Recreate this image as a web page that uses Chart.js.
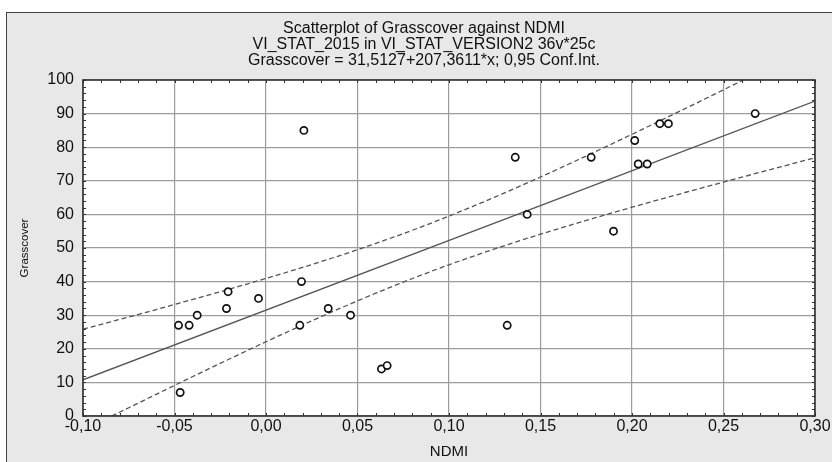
<!DOCTYPE html>
<html>
<head>
<meta charset="utf-8">
<script src="https://cdn.jsdelivr.net/npm/chart.js@4.4.1/dist/chart.umd.min.js"></script>
<style>
  body { margin: 0; background: #fff; }
  #frame { position: absolute; left: 6px; top: 12px; width: 840px; height: 470px;
           border: 1px solid #444; background: #e8e8e8; }
  #wrap { position: absolute; left: 0; top: 0; width: 832px; height: 462px; }
</style>
</head>
<body>
<div id="frame"></div>
<div id="wrap"><canvas id="chart" width="832" height="462"></canvas></div>
<script>
// NDMI vs Grasscover, 25 cases
const ndmi = [-0.0478, -0.0420, -0.0376, -0.0207, -0.0216, -0.0041, 0.0194, 0.0185,
  0.0340, 0.0462, 0.0631, 0.0662, -0.0469, 0.0207, 0.1362, 0.1427, 0.1318, 0.1777,
  0.1899, 0.2015, 0.2034, 0.2083, 0.2152, 0.2199, 0.2673];
const grass = [27, 27, 30, 37, 32, 35, 40, 27, 32, 30, 14, 15, 7, 85, 77, 60, 27, 77,
  55, 82, 75, 75, 87, 87, 90];

// fit from the title line
const intercept = 31.5127;
const slope = 207.3611;
const tCrit = 2.0687; // t(0.975, 23)

const xTicks = [-0.10, -0.05, 0.00, 0.05, 0.10, 0.15, 0.20, 0.25, 0.30];
const yTicks = [0, 10, 20, 30, 40, 50, 60, 70, 80, 90, 100];

const titleLines = [
  "Scatterplot of Grasscover against NDMI",
  "VI_STAT_2015 in VI_STAT_VERSION2 36v*25c",
  "Grasscover = 31,5127+207,3611*x; 0,95 Conf.Int."
];

// confidence band for the mean
const n = ndmi.length;
const meanX = ndmi.reduce((a, b) => a + b, 0) / n;
const sxx = ndmi.reduce((a, x) => a + (x - meanX) ** 2, 0);
const sse = ndmi.reduce((a, x, i) => a + (grass[i] - (intercept + slope * x)) ** 2, 0);
const s = Math.sqrt(sse / (n - 2));

const fitLine = [xTicks[0], xTicks[xTicks.length - 1]].map(x => ({ x, y: intercept + slope * x }));
const upper = [], lower = [];
for (let i = 0; i <= 80; i++) {
  const x = xTicks[0] + i * (xTicks[xTicks.length - 1] - xTicks[0]) / 80;
  const yh = intercept + slope * x;
  const h = tCrit * s * Math.sqrt(1 / n + (x - meanX) ** 2 / sxx);
  upper.push({ x, y: yh + h });
  lower.push({ x, y: yh - h });
}

const comma = v => {
  const r = Math.abs(v) < 1e-9 ? 0 : v;
  return r.toFixed(2).replace(".", ",");
};

const FONT = "'Liberation Sans', Arial, sans-serif";

const frameBox = {
  id: "frameBox",
  beforeDraw(chart) {
    const { ctx, chartArea: a } = chart;
    ctx.save();
    ctx.fillStyle = "#fff";
    ctx.fillRect(a.left, a.top, a.right - a.left, a.bottom - a.top);
    ctx.restore();
  },
  afterDatasetsDraw(chart) {
    const { ctx, chartArea: a, scales } = chart;
    ctx.save();
    ctx.strokeStyle = "#333";
    ctx.lineWidth = 1;
    ctx.beginPath();
    for (let v = -0.1; v <= 0.3001; v += 0.01) {
      const px = Math.round(scales.x.getPixelForValue(v)) + 0.5;
      ctx.moveTo(px, a.bottom); ctx.lineTo(px, a.bottom - 3);
      ctx.moveTo(px, a.top); ctx.lineTo(px, a.top + 3);
    }
    for (let v = 0; v <= 100; v += 2) {
      const py = Math.round(scales.y.getPixelForValue(v)) + 0.5;
      ctx.moveTo(a.left, py); ctx.lineTo(a.left + 3, py);
      ctx.moveTo(a.right, py); ctx.lineTo(a.right - 3, py);
    }
    ctx.stroke();
    ctx.lineWidth = 1.6;
    ctx.strokeRect(a.left, a.top, a.right - a.left, a.bottom - a.top);

    // three-line heading
    ctx.fillStyle = "#111";
    ctx.font = "16px " + FONT;
    ctx.textAlign = "center";
    ctx.textBaseline = "middle";
    titleLines.forEach((t, i) => ctx.fillText(t, 424, 29 + i * 16));
    ctx.restore();
  }
};

new Chart(document.getElementById("chart"), {
  type: "scatter",
  data: {
    datasets: [
      {
        data: ndmi.map((x, i) => ({ x, y: grass[i] })),
        pointStyle: "circle",
        pointRadius: 3.6,
        borderWidth: 1.7,
        borderColor: "#111",
        backgroundColor: "#fff",
        order: 0
      },
      {
        data: fitLine, showLine: true, pointRadius: 0,
        borderColor: "#555", borderWidth: 1.3, order: 1
      },
      {
        data: upper, showLine: true, pointRadius: 0,
        borderColor: "#555", borderWidth: 1.3, borderDash: [5, 3], order: 1
      },
      {
        data: lower, showLine: true, pointRadius: 0,
        borderColor: "#555", borderWidth: 1.3, borderDash: [5, 3], order: 1
      }
    ]
  },
  options: {
    responsive: false,
    animation: false,
    layout: { padding: { left: 0, right: 17, top: 80, bottom: 0 } },
    plugins: {
      legend: { display: false },
      tooltip: { enabled: false },
      title: { display: false }
    },
    scales: {
      x: {
        type: "linear",
        min: xTicks[0],
        max: xTicks[xTicks.length - 1],
        afterBuildTicks: sc => { sc.ticks = xTicks.map(v => ({ value: v })); },
        afterFit: sc => { sc.height = 46; },
        grid: { color: "#9c9c9c", lineWidth: 1.2, drawTicks: false },
        border: { display: false },
        ticks: {
          callback: comma, padding: 1, color: "#111", autoSkip: false, maxRotation: 0,
          font: { family: FONT, size: 16 }
        },
        title: {
          display: true, text: "NDMI", color: "#111",
          font: { family: FONT, size: 15 },
          padding: { top: 4, bottom: 1 }
        }
      },
      y: {
        min: yTicks[0],
        max: yTicks[yTicks.length - 1],
        afterBuildTicks: sc => { sc.ticks = yTicks.map(v => ({ value: v })); },
        afterFit: sc => { sc.width = 83; },
        grid: { color: "#9c9c9c", lineWidth: 1.2, drawTicks: false },
        border: { display: false },
        ticks: {
          padding: 9, color: "#111",
          font: { family: FONT, size: 16 }
        },
        title: {
          display: true, text: "Grasscover", color: "#111",
          font: { family: FONT, size: 11.5 },
          padding: { top: 18, bottom: 0 }
        }
      }
    }
  },
  plugins: [frameBox]
});
</script>
</body>
</html>
